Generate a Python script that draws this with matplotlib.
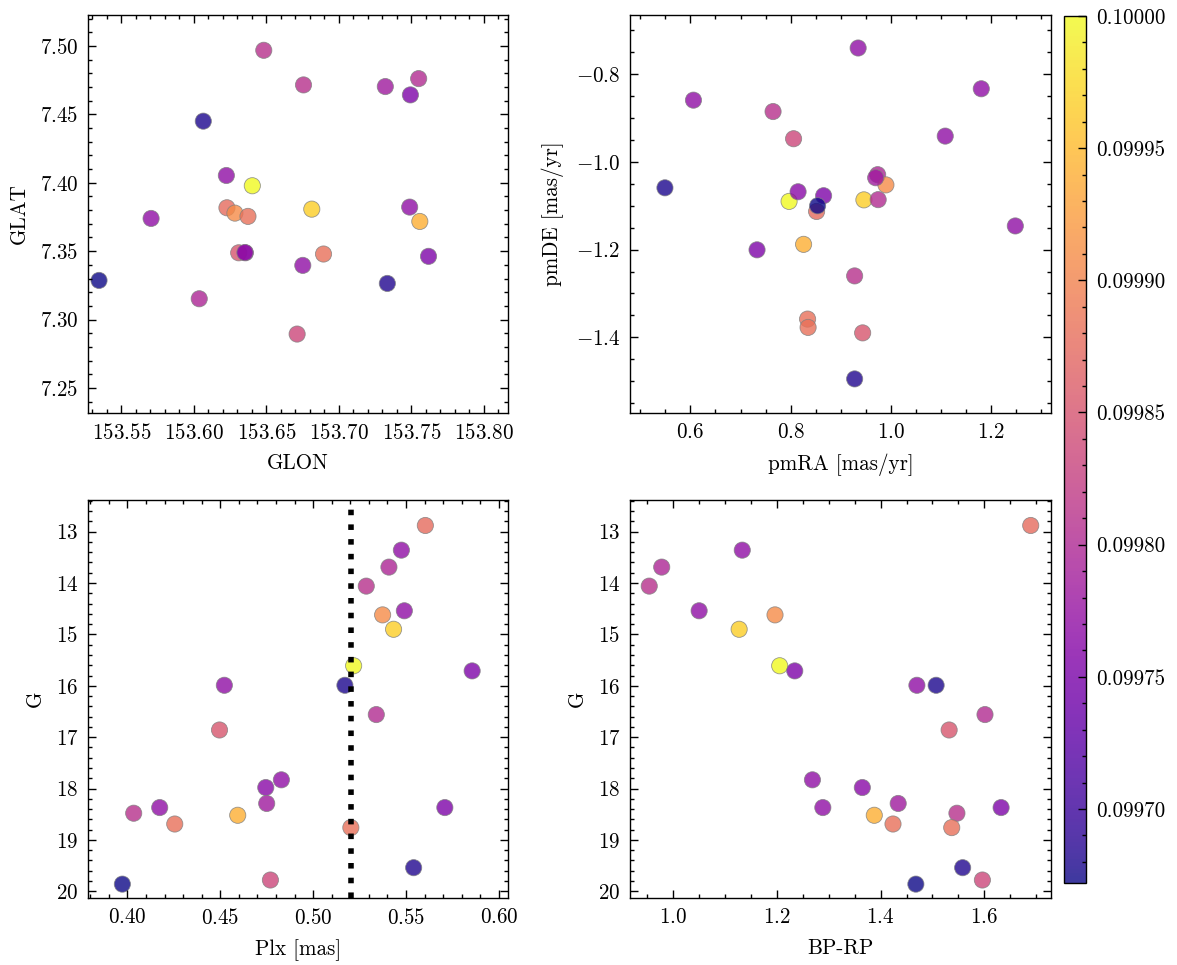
import numpy as np
import matplotlib.pyplot as plt

plt.rcParams['font.family'] = 'serif'
plt.rcParams['font.serif'] = ['cmr10']
plt.rcParams['mathtext.fontset'] = 'cm'
plt.rcParams['axes.formatter.use_mathtext'] = True
plt.rcParams['font.size'] = 7.6
plt.rcParams['axes.linewidth'] = 0.5
for ax_ in ['xtick', 'ytick']:
    plt.rcParams[ax_ + '.direction'] = 'in'
    plt.rcParams[ax_ + '.major.size'] = 3
    plt.rcParams[ax_ + '.minor.size'] = 1.5
    plt.rcParams[ax_ + '.major.width'] = 0.5
    plt.rcParams[ax_ + '.minor.width'] = 0.5
    plt.rcParams[ax_ + '.minor.visible'] = True
plt.rcParams['xtick.top'] = True
plt.rcParams['ytick.right'] = True

# Cluster members (one entry per star)
glon = [153.6228, 153.6224, 153.6037, 153.6756, 153.6283, 153.7488, 153.6813, 153.6403,
        153.7493, 153.6751, 153.6065, 153.7550, 153.6309, 153.5705, 153.6355, 153.7320,
        153.6352, 153.7618, 153.6482, 153.7558, 153.6373, 153.6894, 153.7334, 153.5346,
        153.6712]
glat = [7.3817, 7.4053, 7.3152, 7.4715, 7.3778, 7.3822, 7.3807, 7.3978,
        7.4642, 7.3396, 7.4450, 7.4761, 7.3488, 7.3739, 7.3488, 7.4703,
        7.3490, 7.3462, 7.4968, 7.3717, 7.3754, 7.3479, 7.3264, 7.3286,
        7.2894]
pmra = [0.852, 0.935, 0.974, 0.765, 0.9905, 0.606, 0.9465, 0.797,
        0.866, 1.181, 0.549, 0.975, 0.944, 1.109, 0.815, 0.970,
        1.249, 0.733, 0.928, 0.826, 0.834, 0.835, 0.928, 0.854,
        0.806]
pmde = [-1.113, -0.740, -1.029, -0.885, -1.0523, -0.859, -1.0865, -1.090,
        -1.077, -0.833, -1.059, -1.086, -1.390, -0.941, -1.068, -1.036,
        -1.146, -1.2005, -1.260, -1.188, -1.3585, -1.3775, -1.495, -1.100,
        -0.947]
plx = [0.5604, 0.5475, 0.5408, 0.5286, 0.5374, 0.5491, 0.5433, 0.5218,
       0.5856, 0.4522, 0.5171, 0.5340, 0.4496, 0.4829, 0.4745, 0.4750,
       0.4174, 0.5709, 0.4034, 0.4594, 0.4255, 0.5203, 0.5541, 0.3973,
       0.4770]
gmag = [12.88, 13.36, 13.69, 14.06, 14.62, 14.54, 14.90, 15.61,
        15.71, 15.99, 15.99, 16.56, 16.86, 17.83, 17.98, 18.29,
        18.37, 18.37, 18.48, 18.52, 18.69, 18.76, 19.54, 19.86,
        19.78]
bp_rp = [1.689, 1.134, 0.979, 0.955, 1.197, 1.051, 1.128, 1.206,
         1.235, 1.470, 1.507, 1.601, 1.532, 1.269, 1.365, 1.434,
         1.289, 1.632, 1.547, 1.388, 1.424, 1.537, 1.558, 1.468,
         1.596]
prob = [0.099875, 0.099770, 0.099797, 0.099810, 0.099908, 0.099770, 0.099967, 0.100000,
        0.099754, 0.099770, 0.099679, 0.099803, 0.099852, 0.099770, 0.099764, 0.099784,
        0.099770, 0.099754, 0.099810, 0.099941, 0.099882, 0.099882, 0.099682, 0.099672,
        0.099836]
plx_mean = 0.5203

W, H = 1177, 965
fig = plt.figure(figsize=(W / 200, H / 200), dpi=200)

def box(x0, y0, x1, y1):
    return [x0 / W, 1 - y1 / H, (x1 - x0) / W, (y1 - y0) / H]

ax1 = fig.add_axes(box(88, 15, 508, 413))
ax2 = fig.add_axes(box(630, 15, 1051, 413))
ax3 = fig.add_axes(box(88, 500, 508, 898))
ax4 = fig.add_axes(box(630, 500, 1051, 898))
cax = fig.add_axes(box(1064, 16, 1086, 883))

kw = dict(c=prob, cmap='plasma', s=34, alpha=0.8, edgecolor='gray', linewidth=0.3)

sc = ax1.scatter(glon, glat, **kw)
ax1.set_xlim(153.527, 153.8166)
ax1.set_ylim(7.2317, 7.5226)
ax1.set_xlabel('GLON')
ax1.set_ylabel('GLAT')

ax2.scatter(pmra, pmde, **kw)
ax2.set_xlim(0.4792, 1.3203)
ax2.set_ylim(-1.5728, -0.6647)
ax2.set_xlabel('pmRA [mas/yr]')
ax2.set_ylabel('pmDE [mas/yr]')

ax3.scatter(plx, gmag, **kw)
ax3.axvline(plx_mean, color='black', linestyle=':', linewidth=2)
ax3.set_xlim(0.3788, 0.6049)
ax3.set_ylim(20.13, 12.384)
ax3.set_xlabel('Plx [mas]')
ax3.set_ylabel('G')

ax4.scatter(bp_rp, gmag, **kw)
ax4.set_xlim(0.918, 1.728)
ax4.set_ylim(20.13, 12.384)
ax4.set_xlabel('BP-RP')
ax4.set_ylabel('G')

cb = fig.colorbar(sc, cax=cax)
cb.ax.minorticks_on()
cb.ax.tick_params(which='both', direction='in')
cb.outline.set_linewidth(0.5)
cb.ax.yaxis.set_major_formatter(plt.FormatStrFormatter('%.5f'))

fig.savefig('out.png', dpi=200)
